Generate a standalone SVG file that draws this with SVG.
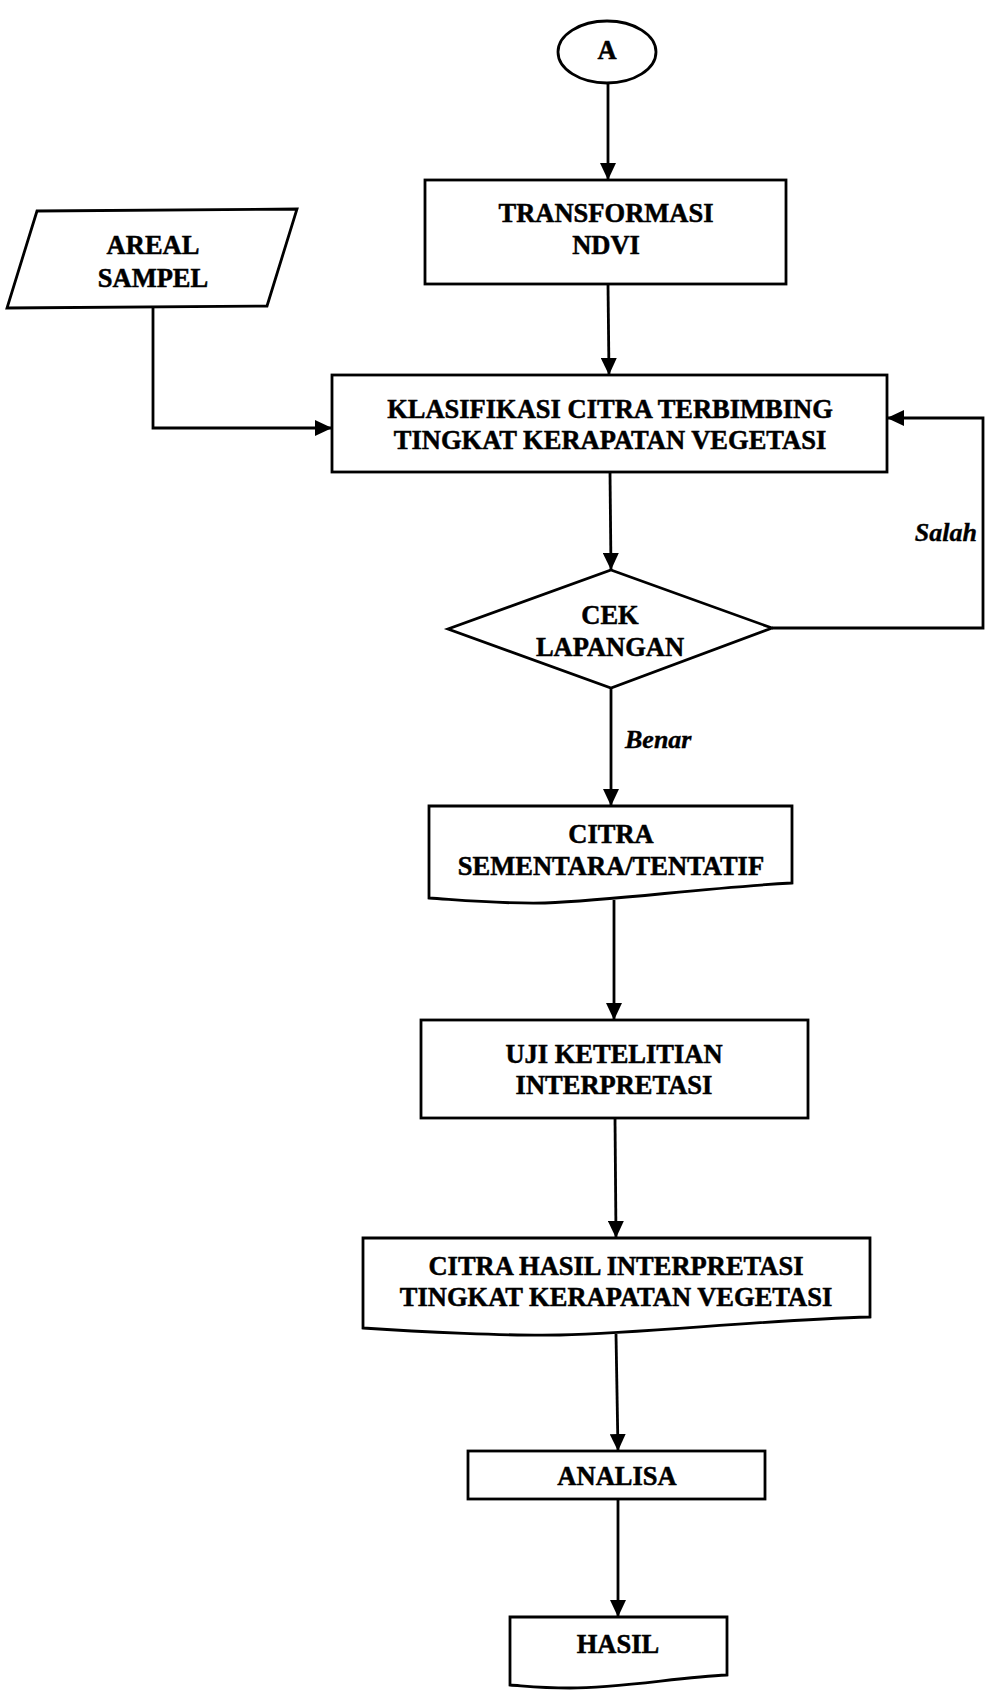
<svg xmlns="http://www.w3.org/2000/svg" width="985" height="1698" viewBox="0 0 985 1698">
  <style>
    .shape { fill: #ffffff; stroke: #000000; stroke-width: 2.8; stroke-linejoin: miter; }
    .wire { fill: none; stroke: #000000; stroke-width: 2.8; }
    .lbl { font-family: "Liberation Serif", "Times New Roman", serif; font-weight: bold; font-size: 26.5px; fill: #000000; stroke: #000000; stroke-width: 0.5; text-anchor: middle; }
    .branch { font-family: "Liberation Serif", "Times New Roman", serif; font-weight: bold; font-style: italic; font-size: 26px; fill: #000000; stroke: #000000; stroke-width: 0.4; }
  </style>
  <defs>
    <marker id="head" markerUnits="userSpaceOnUse" markerWidth="18" markerHeight="16" refX="17" refY="8" orient="auto">
      <path d="M0,0 L17,8 L0,16 Z" fill="#000000"/>
    </marker>
  </defs>

  <rect x="0" y="0" width="985" height="1698" fill="#ffffff"/>

  <!-- connectors -->
  <g id="connectors">
    <line class="wire" x1="608" y1="82" x2="608" y2="180" marker-end="url(#head)"/>
    <line class="wire" x1="608" y1="284" x2="609" y2="375" marker-end="url(#head)"/>
    <polyline class="wire" points="153,308 153,428 332,428" marker-end="url(#head)"/>
    <line class="wire" x1="610" y1="472" x2="611" y2="570" marker-end="url(#head)"/>
    <polyline class="wire" points="772,628 983,628 983,418 887,418" marker-end="url(#head)"/>
    <line class="wire" x1="611" y1="688" x2="611" y2="806" marker-end="url(#head)"/>
    <line class="wire" x1="614" y1="900" x2="614" y2="1020" marker-end="url(#head)"/>
    <line class="wire" x1="615" y1="1118" x2="616" y2="1238" marker-end="url(#head)"/>
    <line class="wire" x1="616" y1="1334" x2="618" y2="1451" marker-end="url(#head)"/>
    <line class="wire" x1="618" y1="1499" x2="618" y2="1617" marker-end="url(#head)"/>
    <text class="branch" x="977" y="541" text-anchor="end">Salah</text>
    <text class="branch" x="625" y="748">Benar</text>
  </g>

  <!-- off-page connector A -->
  <g id="node-a">
    <ellipse class="shape" cx="607" cy="52" rx="49" ry="31"/>
    <text class="lbl" x="607" y="59" font-size="24">A</text>
  </g>

  <g id="node-transformasi">
    <rect class="shape" x="425" y="180" width="361" height="104"/>
    <text class="lbl" x="606" y="222">TRANSFORMASI</text>
    <text class="lbl" x="606" y="254">NDVI</text>
  </g>

  <g id="node-areal-sampel">
    <polygon class="shape" points="37,211 297,209 267,306 7,308"/>
    <text class="lbl" x="153" y="254">AREAL</text>
    <text class="lbl" x="153" y="287">SAMPEL</text>
  </g>

  <g id="node-klasifikasi">
    <rect class="shape" x="332" y="375" width="555" height="97"/>
    <text class="lbl" x="610" y="418">KLASIFIKASI CITRA TERBIMBING</text>
    <text class="lbl" x="610" y="449">TINGKAT KERAPATAN VEGETASI</text>
  </g>

  <g id="node-cek-lapangan">
    <polygon class="shape" points="611,570 772,628 611,688 448,629"/>
    <text class="lbl" x="610" y="624">CEK</text>
    <text class="lbl" x="610" y="656">LAPANGAN</text>
  </g>

  <g id="node-citra-sementara">
    <path class="shape" d="M429,806 H792 V883 C700,888 620,900 545,903 C500,904 460,900 429,898 Z"/>
    <text class="lbl" x="611" y="843">CITRA</text>
    <text class="lbl" x="611" y="875">SEMENTARA/TENTATIF</text>
  </g>

  <g id="node-uji-ketelitian">
    <rect class="shape" x="421" y="1020" width="387" height="98"/>
    <text class="lbl" x="614" y="1063">UJI KETELITIAN</text>
    <text class="lbl" x="614" y="1094">INTERPRETASI</text>
  </g>

  <g id="node-citra-hasil">
    <path class="shape" d="M363,1238 H870 V1317 C760,1320 650,1333 560,1335 C510,1336 420,1332 363,1328 Z"/>
    <text class="lbl" x="616" y="1275">CITRA HASIL INTERPRETASI</text>
    <text class="lbl" x="616" y="1306">TINGKAT KERAPATAN VEGETASI</text>
  </g>

  <g id="node-analisa">
    <rect class="shape" x="468" y="1451" width="297" height="48"/>
    <text class="lbl" x="617" y="1485">ANALISA</text>
  </g>

  <g id="node-hasil">
    <path class="shape" d="M510,1617 H727 V1675 C680,1677 620,1688 570,1688 C540,1688 525,1686 510,1685 Z"/>
    <text class="lbl" x="618" y="1653">HASIL</text>
  </g>
</svg>
